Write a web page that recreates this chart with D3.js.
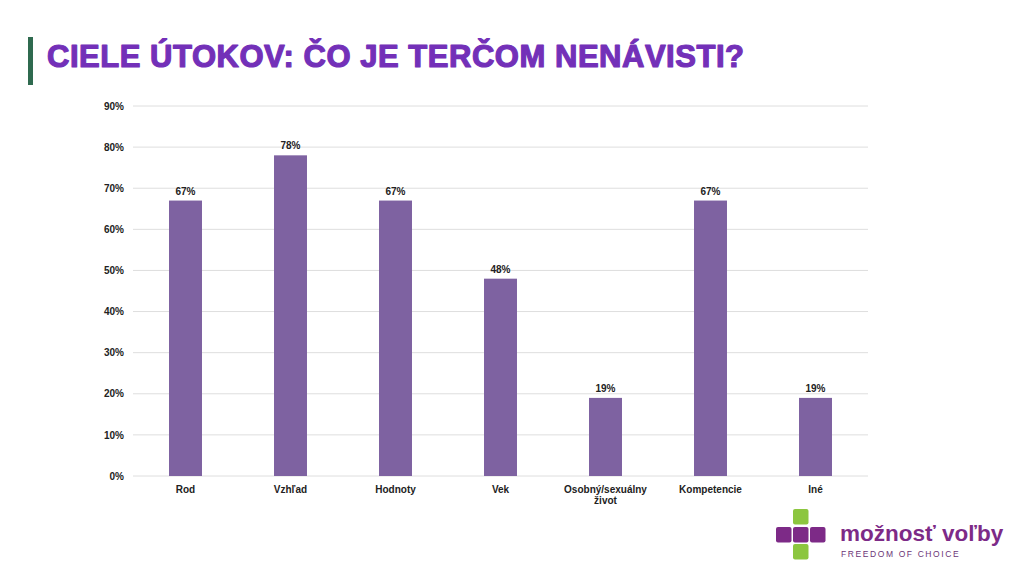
<!DOCTYPE html>
<html>
<head>
  <meta charset="utf-8">
  <title>Ciele útokov</title>
  <script src="https://d3js.org/d3.v7.min.js"></script>
  <style>
    body { margin: 0; background: #fff; }
    text { font-family: "Liberation Sans", Arial, sans-serif; }
  </style>
</head>
<body>
<div id="chart"></div>
<script>
  // Data
  const categories = ["Rod", "Vzhľad", "Hodnoty", "Vek", "Osobný/sexuálny život", "Kompetencie", "Iné"];
  const values = [67, 78, 67, 48, 19, 67, 19];
  const yTicks = [0, 10, 20, 30, 40, 50, 60, 70, 80, 90];

  const width = 1024, height = 570;
  const plot = {left: 133, right: 868, top: 106, bottom: 476};

  const svg = d3.select("#chart").append("svg")
    .attr("width", width)
    .attr("height", height);

  // Title with green accent bar
  svg.append("rect")
    .attr("x", 28).attr("y", 37)
    .attr("width", 5).attr("height", 48)
    .attr("fill", "#2f6a4f");

  svg.append("text")
    .attr("x", 47).attr("y", 67)
    .attr("font-family", "Inter, 'Noto Sans', sans-serif")
    .attr("font-weight", 900)
    .attr("font-size", 31)
    .attr("fill", "#7330b8")
    .attr("stroke", "#7330b8")
    .attr("stroke-width", 1.2)
    .attr("stroke-linejoin", "round")
    .attr("textLength", 697)
    .text("CIELE ÚTOKOV: ČO JE TERČOM NENÁVISTI?");

  const x = d3.scaleBand()
    .domain(categories)
    .range([plot.left, plot.right])
    .paddingInner(0.686)
    .paddingOuter(0.343);

  const y = d3.scaleLinear()
    .domain([0, 90])
    .range([plot.bottom, plot.top]);

  // Gridlines
  svg.append("g")
    .selectAll("line")
    .data(yTicks)
    .join("line")
    .attr("x1", plot.left).attr("x2", plot.right)
    .attr("y1", d => y(d)).attr("y2", d => y(d))
    .attr("stroke", "#dedede")
    .attr("stroke-width", 1);

  // Y axis labels
  const yAxis = svg.append("g")
    .attr("transform", "translate(" + plot.left + ",0)")
    .call(d3.axisLeft(y).tickValues(yTicks).tickSize(0).tickPadding(9).tickFormat(d => d + "%"));
  yAxis.select(".domain").remove();
  yAxis.selectAll("text")
    .attr("font-family", "'Liberation Sans', Arial, sans-serif")
    .attr("font-size", 10)
    .attr("font-weight", "bold")
    .attr("fill", "#222");

  // Bars
  svg.append("g")
    .selectAll("rect")
    .data(values)
    .join("rect")
    .attr("x", (d, i) => x(categories[i]))
    .attr("y", d => y(d))
    .attr("width", x.bandwidth())
    .attr("height", d => y(0) - y(d))
    .attr("fill", "#7e62a1");

  // Value labels
  svg.append("g")
    .selectAll("text")
    .data(values)
    .join("text")
    .attr("x", (d, i) => x(categories[i]) + x.bandwidth() / 2)
    .attr("y", d => y(d) - 6)
    .attr("text-anchor", "middle")
    .attr("font-size", 10)
    .attr("font-weight", "bold")
    .attr("fill", "#222")
    .text(d => d + "%");

  // X axis labels (wrapped)
  const xAxis = svg.append("g")
    .attr("transform", "translate(0," + plot.bottom + ")")
    .call(d3.axisBottom(x).tickSize(0).tickPadding(10));
  xAxis.select(".domain").remove();
  xAxis.selectAll("text")
    .attr("font-family", "'Liberation Sans', Arial, sans-serif")
    .attr("font-size", 10)
    .attr("font-weight", "bold")
    .attr("fill", "#222")
    .each(function(d) {
      const t = d3.select(this);
      const parts = d === "Osobný/sexuálny život" ? ["Osobný/sexuálny", "život"] : [d];
      if (parts.length > 1) {
        t.text(null);
        parts.forEach((p, i) => {
          t.append("tspan").attr("x", 0).attr("dy", i === 0 ? "0.71em" : "1.1em").text(p);
        });
        t.attr("dy", null);
      }
    });

  // Logo
  const logo = svg.append("g");
  const sq = 15.5, gap = 1.5;
  [0, 1, 2].forEach(i => {
    logo.append("rect")
      .attr("x", 776 + i * (sq + gap)).attr("y", 527)
      .attr("width", sq).attr("height", sq).attr("rx", 2)
      .attr("fill", "#7d2a87");
  });
  [509, 544].forEach(yy => {
    logo.append("rect")
      .attr("x", 776 + sq + gap).attr("y", yy)
      .attr("width", sq).attr("height", sq).attr("rx", 2)
      .attr("fill", "#8cc63f");
  });
  logo.append("text")
    .attr("x", 840).attr("y", 541)
    .attr("font-family", "'Open Sans', 'Noto Sans', sans-serif")
    .attr("font-weight", 600)
    .attr("font-size", 22.5)
    .attr("fill", "#7d2a87")
    .text("možnosť voľby");
  logo.append("text")
    .attr("x", 841).attr("y", 557)
    .attr("font-family", "'DejaVu Sans', sans-serif")
    .attr("font-size", 8.5)
    .attr("letter-spacing", 1.6)
    .attr("fill", "#6b3476")
    .text("FREEDOM OF CHOICE");
</script>
</body>
</html>
